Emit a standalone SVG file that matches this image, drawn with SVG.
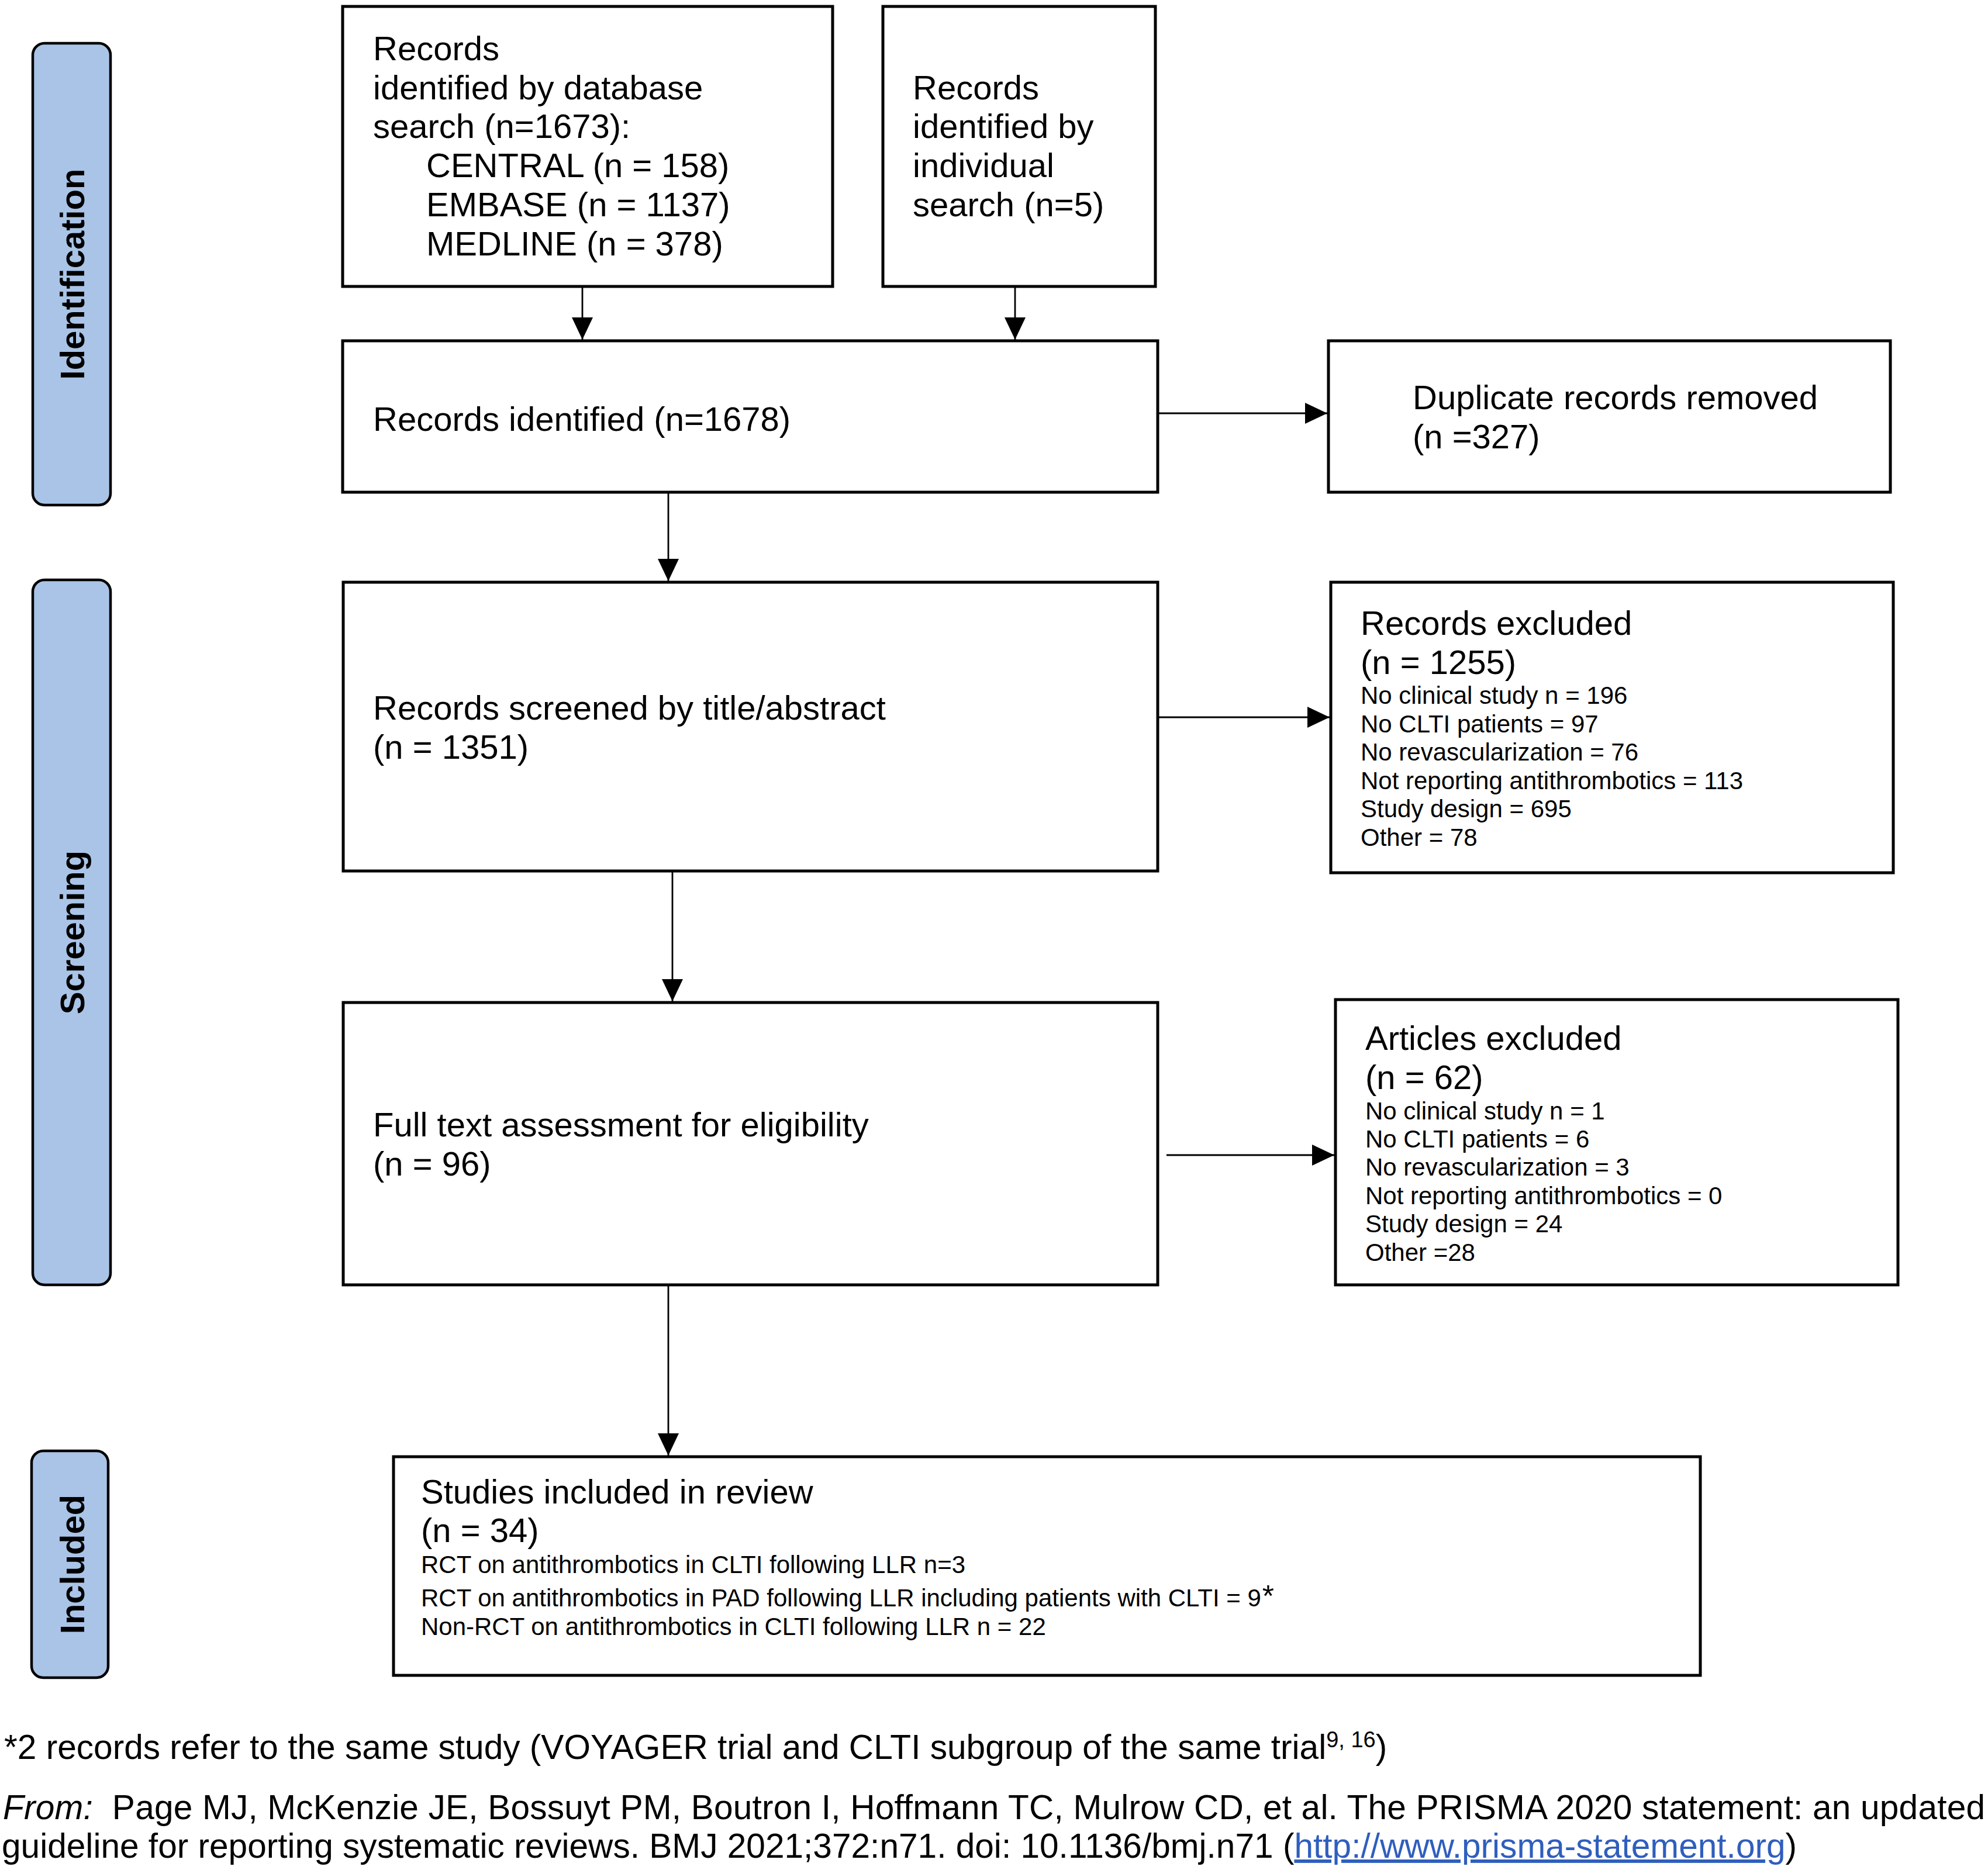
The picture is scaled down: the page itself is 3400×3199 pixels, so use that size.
<svg xmlns="http://www.w3.org/2000/svg" width="3400" height="3199" viewBox="0 0 3400 3199">
<style>
text{font-family:"Liberation Sans",Arial,Helvetica,sans-serif;fill:#000}
.big{font-size:58px}
.sm{font-size:42px}
.fn{font-size:58.6px}
.lbl{font-size:58px;font-weight:bold;text-anchor:middle}
.box{fill:#fff;stroke:#000;stroke-width:5}
.phase{fill:#A9C4E7;stroke:#000;stroke-width:4.5}
.con{stroke:#000;stroke-width:2.8;fill:none;marker-end:url(#ah)}
.link{fill:#2F5EBD}
</style>
<defs>
<marker id="ah" markerUnits="userSpaceOnUse" viewBox="0 0 38 36" markerWidth="38" markerHeight="36" refX="38" refY="18" orient="auto">
<path d="M0,0 L38,18 L0,36 Z" fill="#000"/>
</marker>
</defs>
<rect width="3400" height="3199" fill="#fff"/>

<g id="phase-identification">
<rect class="phase" x="56" y="74" width="133" height="790" rx="20"/>
<text class="lbl" transform="translate(144,469) rotate(-90)">Identification</text>
</g>
<g id="phase-screening">
<rect class="phase" x="56" y="992" width="133" height="1206" rx="20"/>
<text class="lbl" transform="translate(144,1595) rotate(-90)">Screening</text>
</g>
<g id="phase-included">
<rect class="phase" x="54" y="2482" width="131" height="388" rx="20"/>
<text class="lbl" transform="translate(144,2676) rotate(-90)">Included</text>
</g>

<g id="connectors">
<line class="con" x1="996" y1="492" x2="996" y2="581"/>
<line class="con" x1="1736" y1="492" x2="1736" y2="581"/>
<line class="con" x1="1982" y1="707" x2="2270" y2="707"/>
<line class="con" x1="1143" y1="844" x2="1143" y2="994"/>
<line class="con" x1="1982" y1="1227" x2="2274" y2="1227"/>
<line class="con" x1="1150" y1="1492" x2="1150" y2="1713"/>
<line class="con" x1="1995" y1="1976" x2="2282" y2="1976"/>
<line class="con" x1="1143" y1="2200" x2="1143" y2="2490"/>
</g>

<g id="db-search">
<rect class="box" x="586" y="11" width="838" height="479"/>
<text class="big" x="638" y="103">Records</text>
<text class="big" x="638" y="170">identified by database</text>
<text class="big" x="638" y="236">search (n=1673):</text>
<text class="big" x="729" y="303">CENTRAL (n = 158)</text>
<text class="big" x="729" y="370">EMBASE (n = 1137)</text>
<text class="big" x="729" y="437">MEDLINE (n = 378)</text>
</g>

<g id="individual-search">
<rect class="box" x="1510" y="11" width="466" height="479"/>
<text class="big" x="1561" y="170">Records</text>
<text class="big" x="1561" y="236">identified by</text>
<text class="big" x="1561" y="303">individual</text>
<text class="big" x="1561" y="370">search (n=5)</text>
</g>

<g id="records-identified">
<rect class="box" x="586" y="583" width="1394" height="259"/>
<text class="big" x="638" y="737">Records identified (n=1678)</text>
</g>

<g id="duplicates-removed">
<rect class="box" x="2272" y="583" width="961" height="259"/>
<text class="big" x="2416" y="700">Duplicate records removed</text>
<text class="big" x="2416" y="767">(n =327)</text>
</g>

<g id="records-screened">
<rect class="box" x="587" y="996" width="1393" height="494"/>
<text class="big" x="638" y="1231">Records screened by title/abstract</text>
<text class="big" x="638" y="1298">(n = 1351)</text>
</g>

<g id="records-excluded">
<rect class="box" x="2276" y="996" width="962" height="497"/>
<text class="big" x="2327" y="1086">Records excluded</text>
<text class="big" x="2327" y="1153">(n = 1255)</text>
<text class="sm" x="2327" y="1204">No clinical study n = 196</text>
<text class="sm" x="2327" y="1253">No CLTI patients = 97</text>
<text class="sm" x="2327" y="1301">No revascularization = 76</text>
<text class="sm" x="2327" y="1350">Not reporting antithrombotics = 113</text>
<text class="sm" x="2327" y="1398">Study design = 695</text>
<text class="sm" x="2327" y="1447">Other = 78</text>
</g>

<g id="full-text">
<rect class="box" x="587" y="1715" width="1393" height="483"/>
<text class="big" x="638" y="1944">Full text assessment for eligibility</text>
<text class="big" x="638" y="2011">(n = 96)</text>
</g>

<g id="articles-excluded">
<rect class="box" x="2284" y="1710" width="962" height="488"/>
<text class="big" x="2335" y="1796">Articles excluded</text>
<text class="big" x="2335" y="1863">(n = 62)</text>
<text class="sm" x="2335" y="1915">No clinical study n = 1</text>
<text class="sm" x="2335" y="1963">No CLTI patients = 6</text>
<text class="sm" x="2335" y="2011">No revascularization = 3</text>
<text class="sm" x="2335" y="2060">Not reporting antithrombotics = 0</text>
<text class="sm" x="2335" y="2108">Study design = 24</text>
<text class="sm" x="2335" y="2157">Other =28</text>
</g>

<g id="studies-included">
<rect class="box" x="673" y="2492" width="2235" height="374"/>
<text class="big" x="720" y="2572">Studies included in review</text>
<text class="big" x="720" y="2638">(n = 34)</text>
<text class="sm" x="720" y="2691">RCT on antithrombotics in CLTI following LLR n=3</text>
<text class="sm" x="720" y="2748">RCT on antithrombotics in PAD following LLR including patients with CLTI = 9<tspan font-size="52" dx="2">*</tspan></text>
<text class="sm" x="720" y="2797">Non-RCT on antithrombotics in CLTI following LLR n = 22</text>
</g>

<g id="footnotes">
<text class="fn" x="7" y="3009">*2 records refer to the same study (VOYAGER trial and CLTI subgroup of the same trial<tspan font-size="38" dy="-20">9, 16</tspan><tspan dy="20">)</tspan></text>
<text class="fn" x="5" y="3112" xml:space="preserve" style="white-space:pre" textLength="3390"><tspan font-style="italic">From:</tspan>  Page MJ, McKenzie JE, Bossuyt PM, Boutron I, Hoffmann TC, Mulrow CD, et al. The PRISMA 2020 statement: an updated</text>
<text class="fn" x="3" y="3178">guideline for reporting systematic reviews. BMJ 2021;372:n71. doi: 10.1136/bmj.n71 (<tspan class="link" text-decoration="underline">http://www.prisma-statement.org</tspan>)</text>
</g>
</svg>
